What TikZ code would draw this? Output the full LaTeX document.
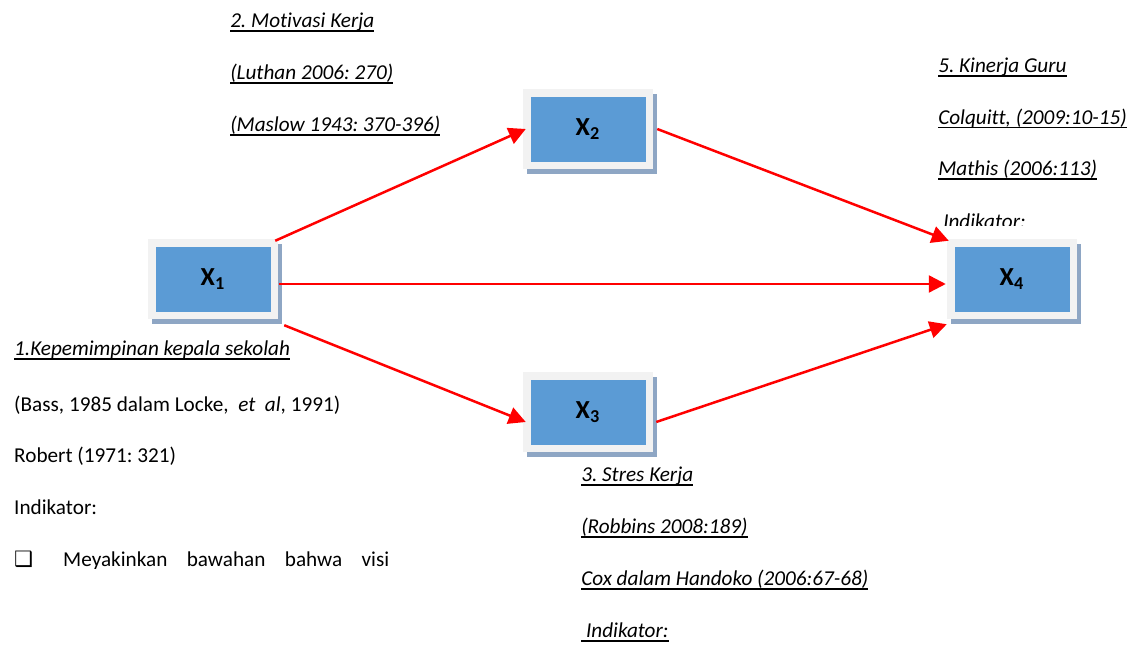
\documentclass[tikz,border=0pt]{standalone}
\usepackage{fontspec}
\setmainfont[Ligatures=NoCommon]{Carlito}
\newfontfamily\symfont{DejaVu Sans}
\usetikzlibrary{arrows.meta,shadows}
\definecolor{boxblue}{HTML}{5B9BD5}
\definecolor{framegrey}{HTML}{F2F2F2}
\definecolor{shadowblue}{HTML}{8EA6C4}
\newcommand\undl[1]{\setbox0\hbox{#1}\rlap{\rule[-2pt]{\wd0}{0.9pt}}\box0}
\frenchspacing

\begin{document}
\begin{tikzpicture}[x=0.5pt,y=-0.5pt,line width=1.25pt,>={Triangle[length=8.5pt,width=8.5pt]},
  var/.style={fill=framegrey,minimum width=65pt,minimum height=40pt,inner sep=0pt,
    font=\bfseries\fontsize{13}{15}\selectfont,
    drop shadow={shadow xshift=2pt,shadow yshift=-2.5pt,fill=shadowblue,opacity=1},
    path picture={\fill[boxblue] ([xshift=4pt,yshift=-4pt]path picture bounding box.north west) rectangle ([xshift=-3.5pt,yshift=3.5pt]path picture bounding box.south east);}},
  lab/.style={anchor=base west,inner sep=0pt,font=\fontsize{10.6}{12}\selectfont},
  ref/.style={lab,font=\fontsize{10.6}{12}\selectfont\itshape}]
\useasboundingbox (0,0) rectangle (1132,646);
% variables
\node[var] (x1) at (213,279) {X\textsubscript{1}};
\node[var] (x2) at (588,129) {X\textsubscript{2}};
\node[var] (x3) at (588,412) {X\textsubscript{3}};
\node[var] (x4) at (1012,279) {X\textsubscript{4}};
% paths
\draw[color=red,->] ([shift={(-2pt,-1.5pt)}]x1.north east) -- ([xshift=2pt]x2.west);
\draw[color=red,->] ([yshift=-2.5pt]x1.east) -- ([yshift=-2.5pt]x4.west);
\draw[color=red,->] ([shift={(2.5pt,-2.5pt)}]x1.south east) -- ([shift={(2pt,-5pt)}]x3.west);
\draw[color=red,->] ([xshift=1.5pt]x2.east) -- ([shift={(1.5pt,-1.5pt)}]x4.north west);
\draw[color=red,->] ([shift={(1pt,-5pt)}]x3.east) -- ([shift={(0.5pt,-2pt)}]x4.south west);
% texts
\foreach \t [count=\i] in {{2. Motivasi Kerja},{(Luthan 2006: 270)},{(Maslow 1943: 370-396)}}
  \node[ref] (mot\i) at (229,{28+52*(\i-1)}) {\undl{\t}};
\foreach \t [count=\i] in {{5. Kinerja Guru},{Colquitt, (2009:10-15)},{Mathis (2006:113)}}
  \node[ref] (kin\i) at (937,{73+51.5*(\i-1)}) {\undl{\t}};
\begin{scope}
\clip (900,200) rectangle (1132,226);
\node[ref] (kin4) at (942,229) {Indikator:};
\end{scope}
\foreach \t [count=\i] in {{3. Stres Kerja},{(Robbins 2008:189)},{Cox dalam Handoko (2006:67-68)},{\ Indikator:}}
  \node[ref] (str\i) at (580,{482+52*(\i-1)}) {\undl{\t}};
\node[ref] (kep1) at (13,356) {\undl{1.Kepemimpinan kepala sekolah}};
\node[lab] (kep2) at (13,412) {(Bass, 1985 dalam Locke,\ \ \textit{et\ \ al}, 1991)};
\node[lab] (kep3) at (13,463) {Robert (1971: 321)};
\node[lab] (kep4) at (13,515) {Indikator:};
\begin{scope}
\clip (0,530) rectangle (420,569);
\node[lab] (kep5) at (13,567) {{\symfont ❑}};
\node[lab] (kep6) at (62,567) {\makebox[163pt][s]{Meyakinkan bawahan bahwa visi}};
\end{scope}
\end{tikzpicture}
\end{document}
